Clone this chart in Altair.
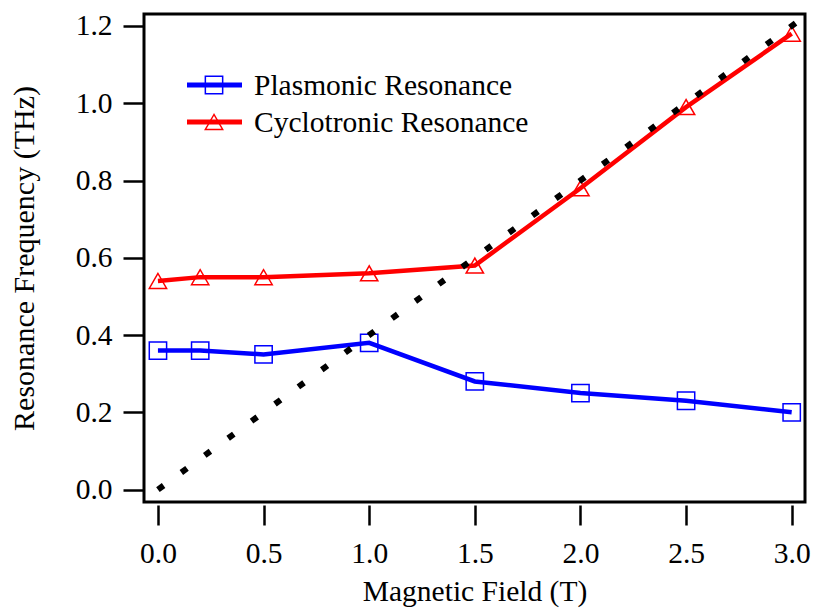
import altair as alt
import pandas as pd

# ---- data ----
field = [0.0, 0.2, 0.5, 1.0, 1.5, 2.0, 2.5, 3.0]
plasmonic = [0.36, 0.36, 0.35, 0.38, 0.28, 0.25, 0.23, 0.20]
cyclotronic = [0.54, 0.55, 0.55, 0.56, 0.58, 0.78, 0.99, 1.18]
guide_field = [0.0, 3.1]
guide_freq = [0.0, 1.24]
series_names = ["Plasmonic Resonance", "Cyclotronic Resonance"]
series_colors = ["#0000ff", "#ff0000"]
series_shapes = ["square", "triangle-up"]
x_ticks = [0.0, 0.5, 1.0, 1.5, 2.0, 2.5, 3.0]
y_ticks = [0.0, 0.2, 0.4, 0.6, 0.8, 1.0, 1.2]

FONT = "Liberation Serif"
FS = 29.5

df_p = pd.DataFrame({"field": field, "freq": plasmonic})
df_c = pd.DataFrame({"field": field, "freq": cyclotronic})
df_g = pd.DataFrame({"field": guide_field, "freq": guide_freq})

x_scale = alt.Scale(domain=[-0.066, 3.063], nice=False, zero=False)
y_scale = alt.Scale(domain=[-0.032, 1.231], nice=False, zero=False)

x_axis = alt.Axis(values=x_ticks, format=".1f", title="Magnetic Field (T)",
                  domain=False, offset=3, tickSize=20, tickWidth=2.5, tickColor="black",
                  labelFont=FONT, labelFontSize=FS, labelColor="black", labelPadding=14,
                  labelFlush=False, labelOverlap=False, grid=False,
                  titleFont=FONT, titleFontSize=FS, titleFontWeight="normal", titleColor="black",
                  titleBaseline="alphabetic", titleY=95)
y_axis = alt.Axis(values=y_ticks, format=".1f", title="Resonance Frequency (THz)",
                  domain=False, tickSize=21, tickWidth=2.5, tickColor="black",
                  labelFont=FONT, labelFontSize=FS, labelColor="black", labelPadding=11,
                  labelFlush=False, labelOverlap=False, grid=False,
                  titleFont=FONT, titleFontSize=30, titleFontWeight="normal", titleColor="black",
                  titleAngle=270, titleBaseline="alphabetic", titleX=-111)

def series_layers(df, color, shape):
    base = alt.Chart(df).encode(
        x=alt.X("field:Q", scale=x_scale, axis=x_axis),
        y=alt.Y("freq:Q", scale=y_scale, axis=y_axis),
    )
    line = base.mark_line(color=color, strokeWidth=4.5)
    pts = base.mark_point(shape=shape, color=color, filled=False, size=300, strokeWidth=1.5, opacity=1)
    return [line, pts]

guide = alt.Chart(df_g).mark_line(color="black", strokeWidth=6, strokeDash=[7, 22], clip=True).encode(
    x=alt.X("field:Q", scale=x_scale, axis=x_axis),
    y=alt.Y("freq:Q", scale=y_scale, axis=y_axis),
)

legend_layers = []
row_y = [71, 108]
for i in range(2):
    ldf = pd.DataFrame({"label": [series_names[i]]})
    lb = alt.Chart(ldf)
    legend_layers.append(lb.mark_rule(color=series_colors[i], strokeWidth=5).encode(
        x=alt.value(43), x2=alt.value(98), y=alt.value(row_y[i])))
    legend_layers.append(lb.mark_point(shape=series_shapes[i], color=series_colors[i], filled=False,
                                       size=300, strokeWidth=1.5, opacity=1).encode(
        x=alt.value(70), y=alt.value(row_y[i])))
    legend_layers.append(lb.mark_text(font=FONT, fontSize=FS, color="black", align="left",
                                      baseline="alphabetic").encode(
        x=alt.value(110), y=alt.value(row_y[i] + 10), text="label:N"))

layers = series_layers(df_p, series_colors[0], series_shapes[0]) + \
    series_layers(df_c, series_colors[1], series_shapes[1]) + [guide] + legend_layers

chart = alt.layer(*layers).properties(
    width=661, height=488,
    autosize=alt.AutoSizeParams(type="none"),
    padding={"left": 144, "top": 14, "right": 10, "bottom": 108},
    background="white",
).configure_view(stroke="black", strokeWidth=3)

chart.save("out.html", embed_options={"renderer": "svg", "actions": False})
